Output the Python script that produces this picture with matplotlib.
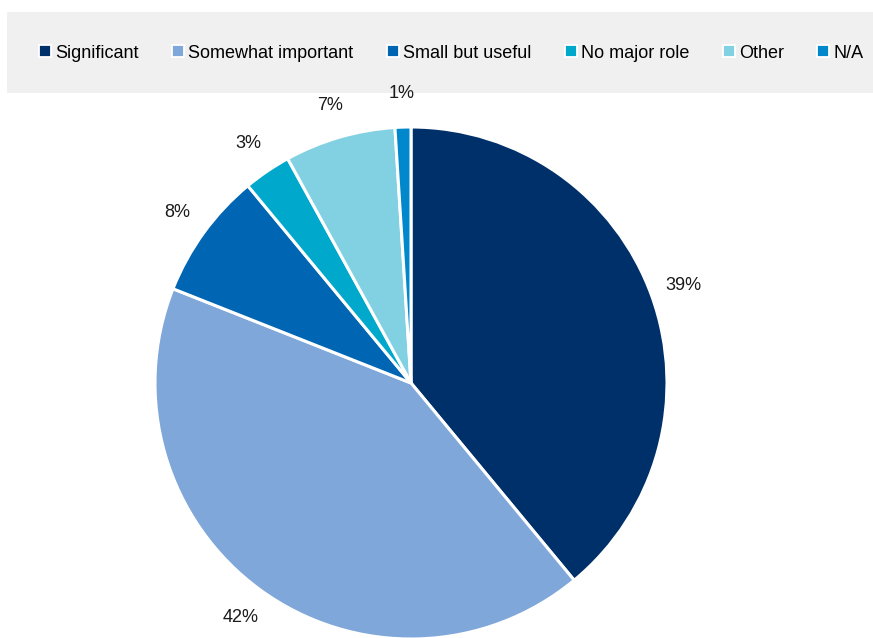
import matplotlib.pyplot as plt
from matplotlib.lines import Line2D
from matplotlib.patches import Rectangle

plt.rcParams["font.family"] = ["Liberation Sans", "DejaVu Sans"]

categories = ["Significant", "Somewhat important", "Small but useful",
              "No major role", "Other", "N/A"]
shares = [39, 42, 8, 3, 7, 1]
labels = ["39%", "42%", "8%", "3%", "7%", "1%"]
colors = ["#003069", "#7fa7d9", "#0066b3", "#00a9cc", "#82d1e3", "#0087cc"]

W, H = 873, 638
fig = plt.figure(figsize=(W / 100, H / 100), dpi=100)

# pie centre at (411, 383) px, radius 256 px
cx, cy, r = 411, 383, 256
ax = fig.add_axes([0, 0, 1, 1], zorder=1)
wedges, texts = ax.pie(shares, labels=labels, colors=colors, startangle=90,
                       counterclock=False, labeldistance=1.13, radius=1,
                       wedgeprops=dict(edgecolor="white", linewidth=2.2),
                       textprops=dict(fontsize=13, color="#1a1a1a"))
for t in texts:
    t.set_ha("center")
    t.set_va("center")
ax.set_xlim(-cx / r, (W - cx) / r)
ax.set_ylim(-(H - cy) / r, cy / r)
ax.set_aspect("auto")
ax.axis("off")

# grey legend band behind everything
fig.patches.append(Rectangle((7 / W, 1 - 93 / H), 1, 81 / H, transform=fig.transFigure,
                             facecolor="#f0f0f0", edgecolor="none", zorder=-1))

handles = [Line2D([], [], linestyle="none", marker="s", markersize=8.5,
                  markerfacecolor=c, markeredgecolor="white", markeredgewidth=1.3)
           for c in colors]
leg = fig.legend(handles, categories, loc="center", bbox_to_anchor=(0.517, 1 - 53 / H),
                 ncol=6, frameon=False, fontsize=13, handlelength=0.65,
                 handletextpad=0.25, columnspacing=1.85, borderpad=0)
leg.set_zorder(2)

fig.savefig("out.png", dpi=100)
